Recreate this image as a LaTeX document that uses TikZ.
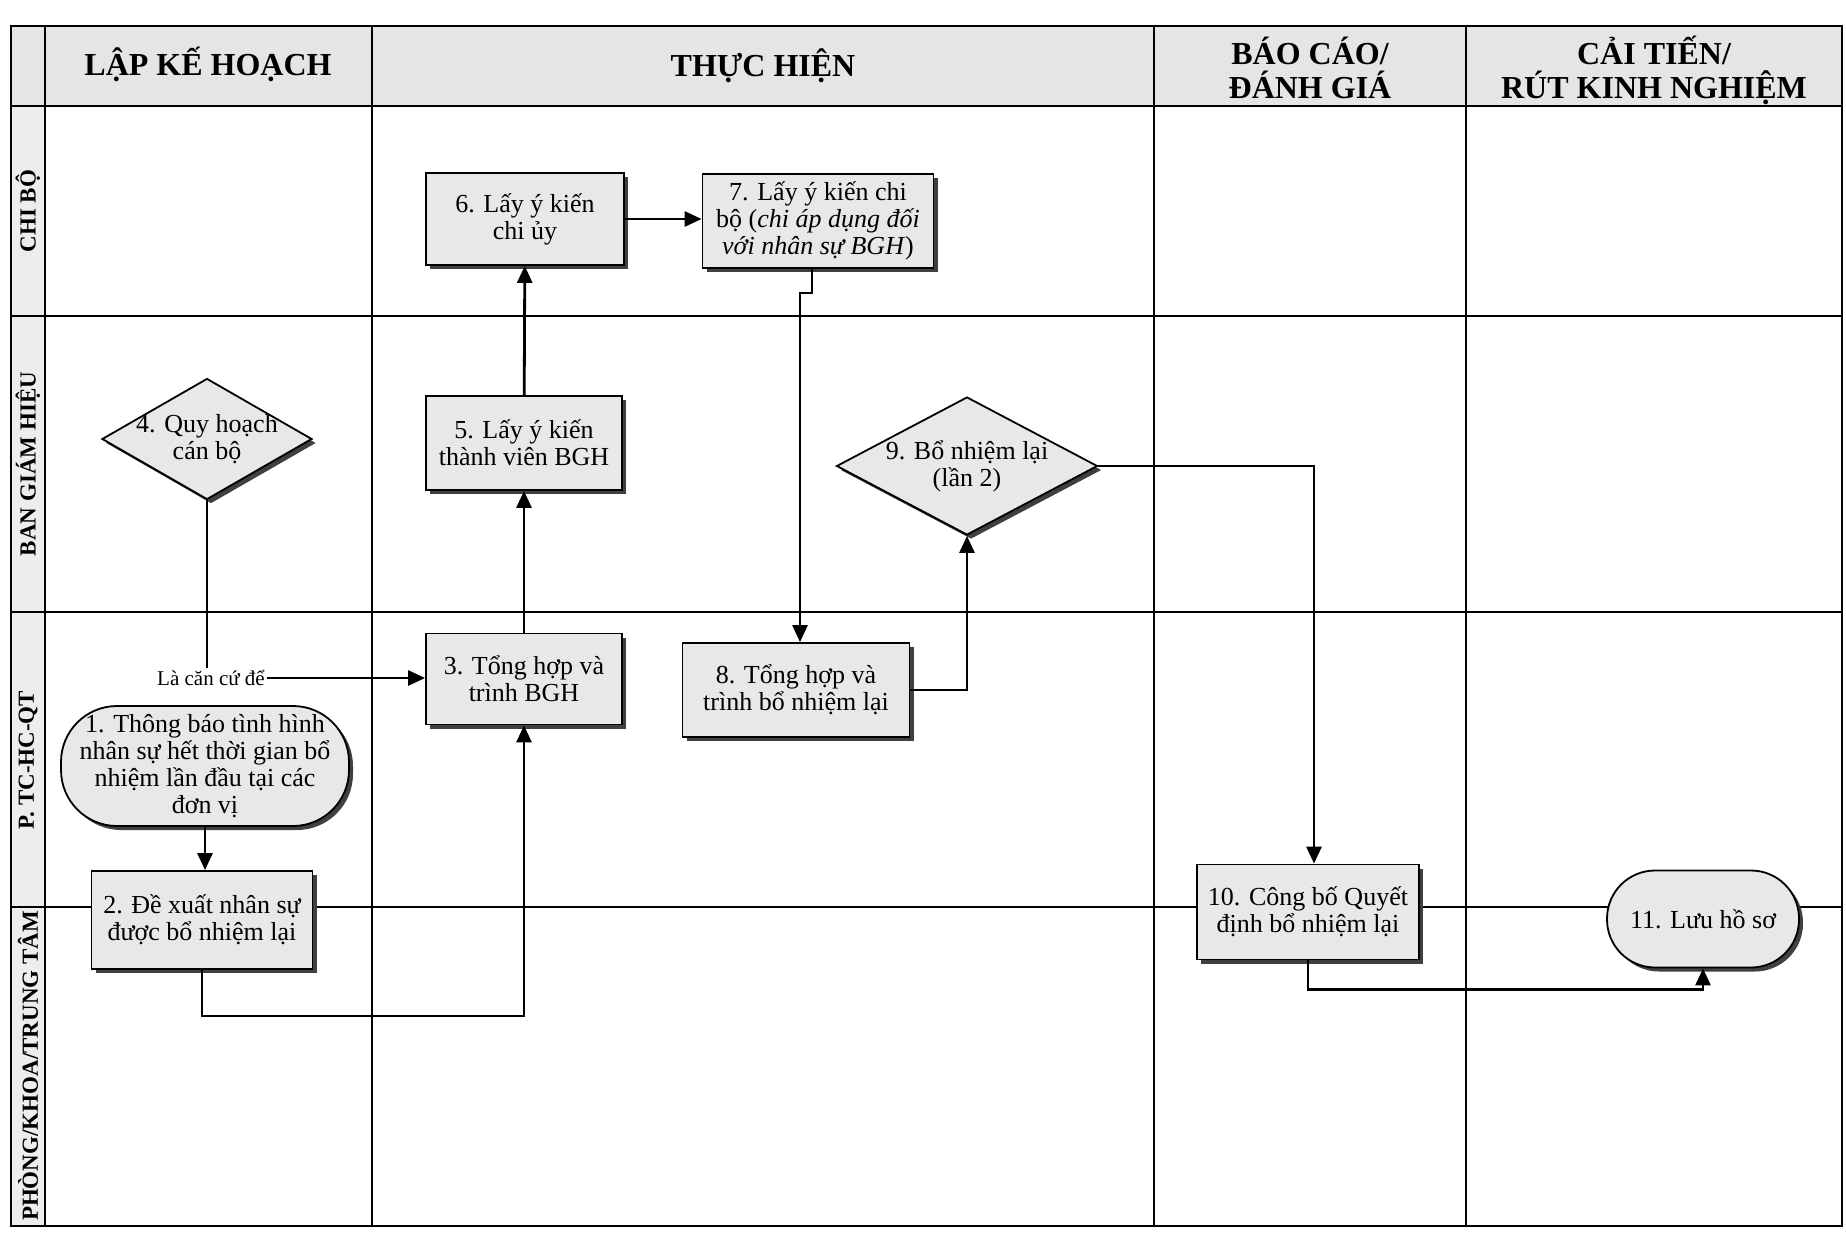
\documentclass[tikz,border=0pt]{standalone}
\usepackage{fontspec}
\setmainfont{Liberation Serif}
\usetikzlibrary{positioning,arrows.meta,shapes.geometric,shadows}

\begin{document}
\begin{tikzpicture}[x=0.5pt, y=-0.5pt, >={Triangle[length=8.5pt,width=7.5pt]},
  lane/.style={line width=1pt},
  hdr/.style={font=\fontsize{16}{17}\selectfont\bfseries, align=center},
  lanelbl/.style={font=\fontsize{11.5}{12}\selectfont\bfseries, rotate=90},
  boxshadow/.style={drop shadow={shadow xshift=2pt,shadow yshift=-2pt,fill=black!75,opacity=1}},
  stepbox/.style={draw, line width=0.9pt, fill=gray!18, boxshadow, align=center,
    inner sep=1pt, font=\fontsize{13}{13.5}\selectfont},
  decision/.style={stepbox, diamond, aspect=#1, inner sep=-4pt},
  terminal/.style={stepbox, rounded corners=#1},
  arr/.style={->, line width=1.4pt}]
  \useasboundingbox (0,0) rectangle (1846,1232);

  % swimlane frame
  \fill[gray!20] (11,26) rectangle (1842,106);
  \fill[gray!14] (11,106) rectangle (45,1226);
  \foreach \y in {106,316,612,907}
    \draw[lane] (11,\y) -- (1842,\y);
  \foreach \x in {45,372,1154,1466}
    \draw[lane] (\x,26) -- (\x,1226);
  \draw[line width=1.2pt] (11,26) rectangle (1842,1226);

  % column headers
  \node[hdr] (h1) at (208,64) {LẬP KẾ HOẠCH};
  \node[hdr] (h2) at (763,66) {THỰC HIỆN};
  \node[hdr] (h3) at (1310,68) {BÁO CÁO/\\ĐÁNH GIÁ};
  \node[hdr] (h4) at (1654,70) {CẢI TIẾN/\\RÚT KINH NGHIỆM};

  % lane labels
  \node[lanelbl] (l1) at (28,211)  {CHI BỘ};
  \node[lanelbl] (l2) at (28,464)  {BAN GIÁM HIỆU};
  \node[lanelbl] (l3) at (28,760)  {P. TC-HC-QT};
  \node[lanelbl] (l4) at (28,1066) {PHÒNG/KHOA/TRUNG TÂM};

  % steps
  \node[terminal=28pt, minimum width=144pt, minimum height=60pt] (n1) at (205,766)
       {1. Thông báo tình hình\\nhân sự hết thời gian bổ\\nhiệm lần đầu tại các\\đơn vị};
  \node[stepbox, minimum width=110.5pt, minimum height=49pt] (n2) at (202,920)
       {2. Đề xuất nhân sự\\được bổ nhiệm lại};
  \node[stepbox, minimum width=98pt, minimum height=45.5pt] (n3) at (524,679)
       {3. Tổng hợp và\\trình BGH};
  \node[decision=1.74, minimum width=105pt, minimum height=60.5pt] (n4) at (207,439)
       {4. Quy hoạch\\cán bộ};
  \node[stepbox, minimum width=98pt, minimum height=47pt] (n5) at (524,443)
       {5. Lấy ý kiến\\thành viên BGH};
  \node[stepbox, minimum width=99pt, minimum height=46pt] (n6) at (525,219)
       {6. Lấy ý kiến\\chi ủy};
  \node[stepbox, minimum width=115.5pt, minimum height=47pt] (n7) at (818,221)
       {7. Lấy ý kiến chi\\bộ (\textit{chi áp dụng đối}\\\textit{với nhân sự BGH})};
  \node[stepbox, minimum width=113.5pt, minimum height=47pt] (n8) at (796,690)
       {8. Tổng hợp và\\trình bổ nhiệm lại};
  \node[decision=1.9, minimum width=130.5pt, minimum height=69pt] (n9) at (967,466)
       {9. Bổ nhiệm lại\\(lần 2)};
  \node[stepbox, minimum width=111pt, minimum height=47.5pt] (n10) at (1308,912)
       {10. Công bố Quyết\\định bổ nhiệm lại};
  \node[terminal=24pt, minimum width=96pt, minimum height=48.5pt] (n11) at (1703,919)
       {11. Lưu hồ sơ};
  \node[font=\fontsize{10.5}{11}\selectfont, inner sep=1pt] (lbl) at (211,678) {Là căn cứ để};

  % flow
  \draw[line width=1.4pt] (n4.south) -- (n4.south |- lbl.north);
  \draw[arr] (lbl.east) -- (lbl.east -| n3.west);
  \draw[arr] (n1.south) -- (n1.south |- n2.north);
  \draw[arr] (n2.south) -- ++(0,46) -| (n3.south);
  \draw[arr] (n3) -- (n5);
  \draw[arr] (n5) -- (n6);
  \draw[arr] (n6.east) -- (n6.east -| n7.west);
  \draw[arr] ([xshift=-3pt]n7.south) -- ++(0,24) -| ([xshift=2pt]n8.north);
  \draw[arr] (n8.east) -| (n9.south);
  \draw[arr] (n9.east) -| ([xshift=3pt]n10.north);
  \draw[arr] (n10.south) -- ++(0,29) -| (n11.south);
\end{tikzpicture}
\end{document}
